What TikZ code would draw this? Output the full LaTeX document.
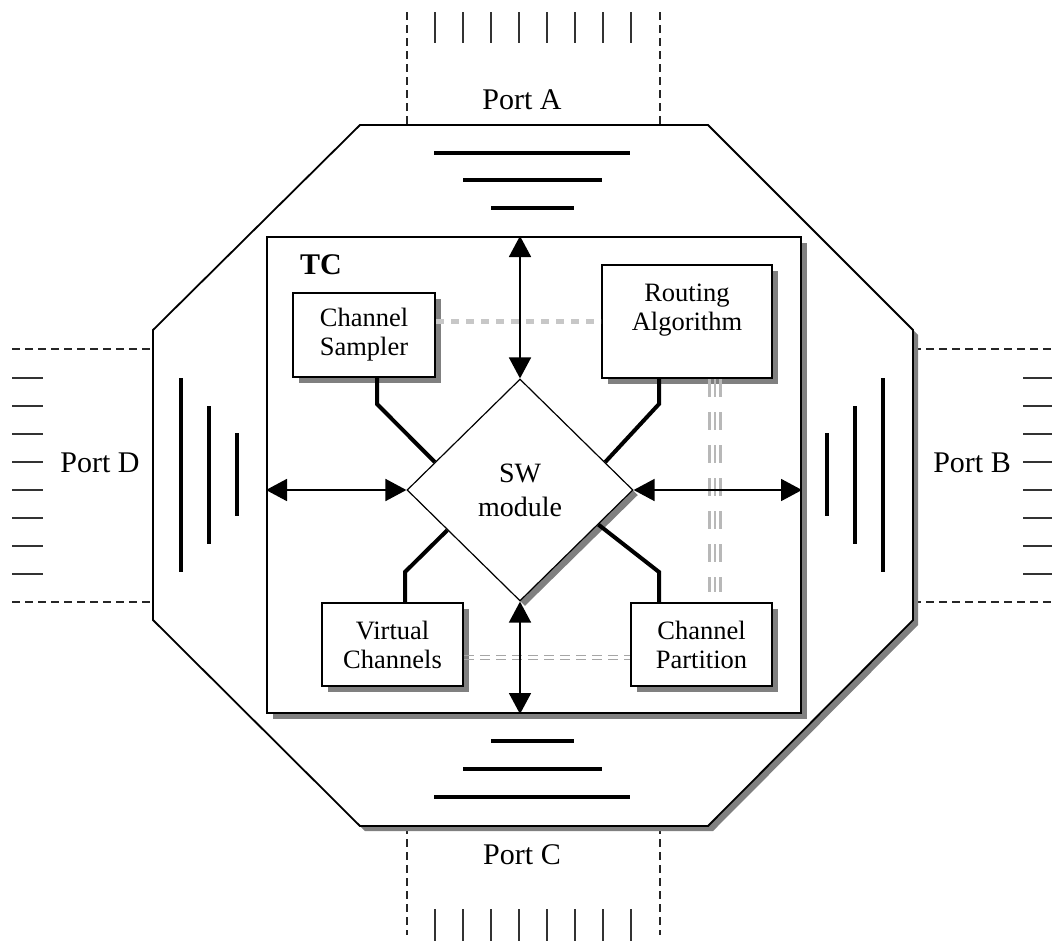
\documentclass[tikz,border=0pt]{standalone}
\usepackage{fontspec}
\setmainfont{Liberation Serif}
\usetikzlibrary{arrows.meta,shapes.geometric,shadows,calc}
\begin{document}
\begin{tikzpicture}[x=1pt,y=-1pt,
  portlabel/.style={font=\fontsize{30}{32}\selectfont, inner sep=0pt},
  tick/.style={line width=2pt, black!80},
  bar/.style={line width=4pt, black},
  portedge/.style={line width=1.4pt, dash pattern=on 8pt off 5pt, black!85},
  shad/.style={drop shadow={shadow xshift=6pt, shadow yshift=-6pt, fill=black!50, opacity=1}},
  box/.style={draw, line width=2pt, fill=white, align=center, inner sep=0pt,
    font=\fontsize{26.5}{29}\selectfont, shad},
  tcbox/.style={draw, line width=2pt, fill=white, inner sep=0pt, minimum width=534pt, minimum height=476pt, shad},
  swbox/.style={draw, diamond, aspect=1, line width=1.2pt, fill=white, inner sep=0pt,
    minimum width=226pt, minimum height=222pt, align=center,
    font=\fontsize{28}{34}\selectfont,
    drop shadow={shadow xshift=5pt, shadow yshift=-5pt, fill=black!50, opacity=1}},
  conn/.style={line width=4pt, line join=miter},
  dbl/.style={line width=1.8pt, {Triangle[length=21pt,width=22pt]}-{Triangle[length=21pt,width=22pt]}},
  grayband/.style={line width=5pt, black!22, dash pattern=on 8pt off 7pt},
  graydouble/.style={line width=1.5pt, black!35, dash pattern=on 10pt off 6pt},
  graytriple/.style={line width=2.6pt, black!28, dash pattern=on 18pt off 15pt}
]
\useasboundingbox (0,0) rectangle (1052,943);
\fill[white] (0,0) rectangle (1052,943);

% ---------- ports (outside) ----------
% Port A
\draw[portedge] (407,12) -- (407,125);
\draw[portedge] (660,12) -- (660,125);
\foreach \i in {0,...,7} \draw[tick] (435+28*\i,12) -- (435+28*\i,43);
\node[portlabel] (pa) at (522,100) {Port A};
% Port C
\draw[portedge] (407,826) -- (407,935);
\draw[portedge] (660,826) -- (660,935);
\foreach \i in {0,...,7} \draw[tick] (435+28*\i,909) -- (435+28*\i,941);
\node[portlabel] (pc) at (522,855) {Port C};
% Port D
\draw[portedge] (12,349) -- (153,349);
\draw[portedge] (12,602) -- (153,602);
\foreach \i in {0,...,7} \draw[tick] (12,378+28*\i) -- (43,378+28*\i);
\node[portlabel] (pd) at (100,463) {Port D};
% Port B
\draw[portedge] (913,349) -- (1052,349);
\draw[portedge] (913,602) -- (1052,602);
\foreach \i in {0,...,7} \draw[tick] (1023,378+28*\i) -- (1052,378+28*\i);
\node[portlabel] (pb) at (972,463) {Port B};

% ---------- octagon ----------
\fill[black!50, shift={(5,5)}] (360,125) -- (708,125) -- (913,330) -- (913,620) -- (708,826) -- (360,826) -- (153,620) -- (153,330) -- cycle;
\draw[line width=1.8pt, fill=white] (360,125) -- (708,125) -- (913,330) -- (913,620) -- (708,826) -- (360,826) -- (153,620) -- (153,330) -- cycle;

% bars
\draw[bar] (434,153) -- (630,153);
\draw[bar] (463,180) -- (602,180);
\draw[bar] (491,208) -- (574,208);
\draw[bar] (491,741) -- (574,741);
\draw[bar] (463,769) -- (602,769);
\draw[bar] (434,797) -- (630,797);
\draw[bar] (181,378) -- (181,572);
\draw[bar] (209,406) -- (209,544);
\draw[bar] (237,433) -- (237,516);
\draw[bar] (827,433) -- (827,516);
\draw[bar] (855,406) -- (855,544);
\draw[bar] (883,378) -- (883,572);

% ---------- TC ----------
\node[tcbox] (tc) at (534,475) {};
\node[font=\fontsize{30}{30}\selectfont\bfseries, inner sep=0pt] (tcl) at (321,265) {TC};

% boxes
\node[box, minimum width=142pt, minimum height=84pt] (cs) at (364,335) {Channel\\Sampler};
\node[box, minimum width=170pt, minimum height=113pt] (ra) at (687,321.5) {Routing\\Algorithm\\[0pt]};
\node[box, minimum width=141pt, minimum height=83pt] (vc) at (392.5,644.5) {Virtual\\Channels};
\node[box, minimum width=141pt, minimum height=83pt] (cp) at (701.5,644.5) {Channel\\Partition};

% gray links
\draw[grayband] (cs.east |- ra.west) -- (ra.west);
\draw[graydouble, transform canvas={yshift=2.2pt}] ($(vc.east)+(0,13)$) -- ($(cp.west)+(0,13)$);
\draw[graydouble, transform canvas={yshift=-2.2pt}] ($(vc.east)+(0,13)$) -- ($(cp.west)+(0,13)$);
\foreach \s in {-5.5,0,5.5}
  \draw[graytriple, transform canvas={xshift=\s pt}] ($(ra.south)+(28,0)$) -- ($(cp.north)+(13.5,-10)$);

% diamond
\node[swbox] (sw) at (520,490) {SW\\module};

% connectors
\draw[conn] ($(cs.south)+(13,0)$) -- ++(0,26) -- ($(sw.west)!0.25!(sw.north)$);
\draw[conn] ($(ra.south)+(-28,0)$) -- ++(0,25) -- ($(sw.east)!0.25!(sw.north)$);
\draw[conn] ($(vc.north)+(12.5,0)$) -- ++(0,-30) -- ($(sw.west)!0.36!(sw.south)$);
\draw[conn] ($(cp.north)+(-42.5,0)$) -- ++(0,-30) -- ($(sw.east)!0.31!(sw.south)$);

% arrows
\draw[dbl] (sw.north |- tc.north) -- (sw.north);
\draw[dbl] (sw.south) -- (sw.south |- tc.south);
\draw[dbl] (tc.west |- sw.west) -- (sw.west);
\draw[dbl] (sw.east) -- (tc.east |- sw.east);
\end{tikzpicture}
\end{document}
